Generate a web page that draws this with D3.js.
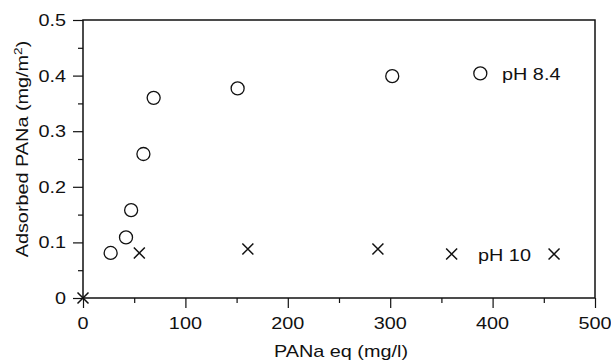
<!DOCTYPE html>
<html>
<head>
<meta charset="utf-8">
<script src="https://cdn.jsdelivr.net/npm/d3@7/dist/d3.min.js"></script>
<style>
    body { margin: 0; background: #fff; }
    text { font-family: "Liberation Sans", Arial, sans-serif; fill: #111; }
</style>
</head>
<body>
<svg id="chart" width="611" height="363"></svg>
<script>
// pH 8.4 series (open circles)
var ph84X = [27, 42, 47, 59, 69, 151, 302, 388];
var ph84Y = [0.081, 0.109, 0.158, 0.259, 0.360, 0.377, 0.399, 0.404];

// pH 10 series (crosses)
var ph10X = [0, 55, 161, 288, 360, 460];
var ph10Y = [0, 0.081, 0.088, 0.088, 0.079, 0.079];

var xTicks = [0, 100, 200, 300, 400, 500];
var yTicks = [0, 0.1, 0.2, 0.3, 0.4, 0.5];
var xMinor = [50, 150, 250, 350, 450];
var yMinor = [0.05, 0.15, 0.25, 0.35, 0.45];

(function()
{
    "use strict";

    const LEFT = 83, RIGHT = 595, TOP = 20, BOTTOM = 298;
    const FONT = 16;
    const STRETCH = 1.24;   // the scanned lettering is wider than Arial

    var svg = d3.select("#chart");

    var x = d3.scaleLinear().domain([0, 500]).range([LEFT, RIGHT]);
    var y = d3.scaleLinear().domain([0, 0.5]).range([BOTTOM, TOP]);

    // Wide text helper
    function wideText(px, py, str, anchor, rotate)
    {
        return svg.append("text")
            .attr("transform", "translate(" + px + "," + py + ")" + (rotate ? " rotate(-90)" : "") +
                               " scale(" + STRETCH + ",1)")
            .attr("text-anchor", anchor || "start")
            .attr("font-size", FONT)
            .text(str);
    }

    // Frame
    svg.append("rect")
        .attr("x", LEFT).attr("y", TOP)
        .attr("width", RIGHT - LEFT).attr("height", BOTTOM - TOP)
        .attr("fill", "none").attr("stroke", "#111").attr("stroke-width", 1.5);

    // Axes ticks
    svg.append("g")
        .attr("transform", "translate(0," + BOTTOM + ")")
        .call(d3.axisBottom(x).tickValues(xTicks).tickSize(10).tickFormat(""));
    svg.append("g")
        .attr("transform", "translate(0," + BOTTOM + ")")
        .call(d3.axisBottom(x).tickValues(xMinor).tickSize(5).tickFormat(""));
    svg.append("g")
        .attr("transform", "translate(" + LEFT + ",0)")
        .call(d3.axisLeft(y).tickValues(yTicks).tickSize(10).tickFormat(""));
    svg.append("g")
        .attr("transform", "translate(" + LEFT + ",0)")
        .call(d3.axisLeft(y).tickValues(yMinor).tickSize(5).tickFormat(""));

    svg.selectAll(".domain").remove();
    svg.selectAll(".tick line").attr("stroke", "#111").attr("stroke-width", 1.2);

    // Tick labels
    xTicks.forEach(function(d) { wideText(x(d), 329, String(d), "middle"); });
    yTicks.forEach(function(d)
    {
        wideText(66, y(d) + 6, d === 0 ? "0" : d3.format(".1f")(d), "end");
    });

    // Circles
    svg.append("g").selectAll("circle")
        .data(ph84X)
        .enter().append("circle")
            .attr("cx", function(d) { return x(d); })
            .attr("cy", function(d, i) { return y(ph84Y[i]); })
            .attr("r", 6.5)
            .attr("fill", "none").attr("stroke", "#111").attr("stroke-width", 1.3);

    // Crosses
    var s = 5.5;
    svg.append("g").selectAll("path")
        .data(ph10X)
        .enter().append("path")
            .attr("d", function(d, i)
            {
                var cx = x(d), cy = y(ph10Y[i]);
                return "M" + (cx - s) + "," + (cy - s) + "L" + (cx + s) + "," + (cy + s) +
                       "M" + (cx - s) + "," + (cy + s) + "L" + (cx + s) + "," + (cy - s);
            })
            .attr("stroke", "#111").attr("stroke-width", 1.5);

    // Series labels
    wideText(502, 80, "pH 8.4");
    wideText(478, 261, "pH 10");

    // Axis titles
    wideText((LEFT + RIGHT) / 2 + 2, 357, "PANa eq (mg/l)", "middle");

    var yt = wideText(28, 149, "", "middle", true);
    yt.append("tspan").text("Adsorbed PANa (mg/m");
    yt.append("tspan").attr("font-size", 11).attr("dy", -6).text("2");
    yt.append("tspan").attr("dy", 6).text(")");
})();
</script>
</body>
</html>
